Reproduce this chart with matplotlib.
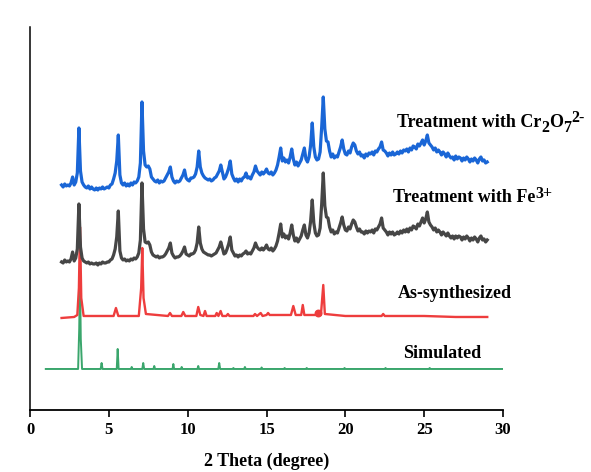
import numpy as np
import matplotlib
matplotlib.use('Agg')
import matplotlib.pyplot as plt
import matplotlib.transforms as mtransforms

plt.rcParams['font.family'] = 'Liberation Serif'
plt.rcParams['font.weight'] = 'bold'

# 2theta scan grid of the two treated samples (0.1 deg step, 2 - 29 deg)
scan_x = np.round(np.arange(2.0, 29.05, 0.1), 1)

# intensities (a.u.), relative to each pattern's own baseline
# one row per degree
cr_y = [2, 0, 3, 1, 2, 1, 4, 10, 2, 5,
        14, 59, 16, 5, 2, 0, -1, 1, -2, 0,
        -2, -3, -1, -3, -1, -2, 0, -2, -1, 0,
        -1, 2, 3, 8, 14, 26, 52, 12, 4, 2,
        4, 1, 3, 1, 4, 2, 5, 4, 6, 10,
        24, 85, 36, 22, 20, 21, 18, 10, 8, 6,
        5, 7, 4, 6, 5, 6, 9, 12, 15, 20,
        10, 6, 4, 6, 5, 6, 9, 12, 17, 9,
        7, 6, 9, 9, 10, 13, 20, 36, 20, 14,
        11, 9, 8, 7, 8, 6, 7, 9, 10, 13,
        16, 22, 15, 8, 10, 14, 19, 26, 13, 9,
        6, 8, 5, 8, 6, 9, 10, 14, 9, 10,
        8, 12, 15, 21, 16, 14, 12, 15, 13, 15,
        18, 14, 13, 15, 12, 14, 17, 22, 30, 39,
        26, 29, 25, 27, 24, 30, 38, 28, 22, 25,
        21, 24, 27, 33, 39, 28, 25, 30, 42, 64,
        40, 30, 27, 28, 35, 60, 90, 58, 46, 45,
        36, 30, 33, 29, 31, 30, 35, 40, 47, 38,
        33, 32, 36, 34, 40, 44, 42, 36, 33, 35,
        31, 32, 29, 33, 31, 34, 33, 35, 32, 36,
        35, 38, 40, 45, 37, 36, 34, 31, 34, 32,
        35, 32, 33, 35, 33, 36, 34, 37, 36, 38,
        35, 39, 37, 41, 40, 38, 43, 41, 44, 47,
        42, 46, 52, 44, 42, 40, 37, 39, 35, 37,
        35, 32, 35, 33, 30, 34, 31, 29, 30, 27,
        31, 28, 30, 29, 26, 29, 27, 30, 28, 25,
        28, 26, 29, 27, 24, 28, 30, 26, 27, 24,
        25]

fe_y = [0, -1, 2, 0, 1, 0, 3, 10, 1, 4,
        13, 58, 15, 4, 1, 0, -1, 0, -2, -1,
        -2, -2, -1, -3, -1, -2, 0, -1, -1, 0,
        0, 2, 3, 7, 13, 25, 51, 11, 4, 2,
        3, 1, 2, 1, 3, 2, 4, 3, 5, 9,
        22, 79, 33, 20, 19, 20, 17, 10, 7, 6,
        5, 6, 4, 5, 5, 6, 8, 11, 14, 19,
        9, 6, 4, 5, 5, 6, 8, 11, 15, 8,
        7, 6, 8, 8, 9, 12, 19, 35, 19, 13,
        10, 9, 8, 7, 7, 6, 7, 8, 9, 12,
        15, 20, 14, 8, 9, 13, 18, 25, 12, 9,
        6, 7, 5, 7, 6, 8, 9, 11, 8, 9,
        8, 11, 14, 19, 15, 13, 12, 14, 12, 14,
        17, 13, 12, 14, 11, 13, 16, 21, 29, 38,
        25, 28, 24, 26, 23, 29, 37, 27, 21, 24,
        20, 23, 26, 32, 37, 27, 24, 29, 41, 62,
        39, 29, 26, 27, 34, 58, 89, 56, 45, 44,
        35, 30, 32, 28, 30, 29, 34, 39, 45, 37,
        32, 31, 35, 33, 38, 42, 40, 35, 31, 33,
        30, 30, 28, 31, 29, 31, 30, 32, 29, 33,
        32, 35, 38, 44, 34, 32, 30, 27, 30, 28,
        30, 27, 28, 30, 28, 31, 29, 32, 30, 33,
        30, 34, 32, 36, 35, 33, 38, 36, 40, 44,
        39, 43, 50, 40, 37, 35, 32, 34, 30, 32,
        30, 27, 30, 28, 26, 29, 26, 24, 26, 23,
        26, 24, 26, 25, 22, 25, 23, 26, 24, 21,
        24, 22, 25, 23, 20, 24, 26, 22, 23, 20,
        22]

as_x = [2.0, 2.8, 3.0, 3.1, 3.17, 3.25, 3.4, 5.3, 5.45, 5.6, 6.9, 7.05, 7.12, 7.2, 7.35, 8.75, 8.88,
        9.0, 9.6, 9.72, 9.85, 10.55, 10.67, 10.8, 11.0, 11.1, 11.2, 11.75, 11.84, 11.95, 12.09, 12.2,
        12.45, 12.55, 12.65, 14.17, 14.27, 14.4, 14.63, 14.75, 15.0, 15.1, 15.2, 16.55, 16.7, 16.85,
        17.2, 17.3, 17.4, 18.1, 18.26, 18.45, 18.6, 18.7, 20.0, 22.3, 22.4, 22.5, 25.0, 27.0, 29.0]
as_y = [0, 1, 3, 30, 91, 20, 2, 2, 10, 2, 2, 30, 70, 20, 4, 2, 5,
        2, 2, 6, 2, 2, 11, 3, 2, 7, 2, 2, 5, 2, 7, 2,
        2, 4, 2, 2, 4, 2, 5, 2, 3, 5, 3, 3, 12, 3,
        3, 13, 3, 3, 6, 3, 33, 4, 2, 2, 4, 2, 2, 1, 1]
blob_x = [18.26]
blob_y = [5]

sim_x = [1.0, 3.05, 3.12, 3.17, 3.22, 3.3, 4.48, 4.54, 4.6, 5.5, 5.56, 5.62, 6.4, 6.45, 6.5, 7.12,
         7.18, 7.24, 7.83, 7.88, 7.93, 9.04, 9.09, 9.14, 9.57, 9.62, 9.67, 10.62, 10.67, 10.72, 11.94,
         12.0, 12.06, 12.85, 12.9, 12.95, 13.58, 13.63, 13.68, 14.64, 14.69, 14.74, 16.1, 16.15, 16.2,
         17.5, 17.55, 17.6, 19.9, 19.95, 20.0, 22.5, 22.55, 22.6, 25.3, 25.35, 25.4, 30.0]
sim_y = [0, 0, 40, 95, 30, 0, 0, 6, 0, 0, 20, 0, 0, 2, 0, 0,
         6, 0, 0, 3, 0, 0, 5, 0, 0, 2, 0, 0, 3, 0, 0,
         6, 0, 0, 1, 0, 0, 2, 0, 0, 1.5, 0, 0, 1, 0,
         0, 1, 0, 0, 1, 0, 0, 1, 0, 0, 1, 0, 0]

# label pieces: (text, shift in points, font size)
sim_label = [('Simulated', 0, 13)]
as_label = [('As-synthesized', 0, 13)]
fe_label = [('Treatment with Fe', 0, 13), ('3+', 3, 11.5)]
cr_label = [('Treatment with Cr', 0, 13), ('2', -3.5, 11.5), ('O', 0, 13),
            ('7', -3.5, 11.5), ('2-', 3.5, 11.5)]

fig = plt.figure(figsize=(5.91, 4.72), dpi=100)
ax = fig.add_axes([0.0508, 0.1314, 0.8003, 0.8114])
renderer = fig.canvas.get_renderer()


def chem_text(x, y, pieces):
    t = ax.transData
    for s, dy, size in pieces:
        tr = mtransforms.offset_copy(t, fig=fig, y=dy, units='points')
        txt = ax.text(x, y, s, fontsize=size, fontweight='bold', transform=tr, clip_on=False)
        txt.draw(renderer)
        ex = txt.get_window_extent(renderer)
        t = mtransforms.offset_copy(t, fig=fig, x=ex.width, units='dots')


# stacked offsets
ax.plot(sim_x, [v + 41 for v in sim_y], color='#3aa66c', lw=1.4)
ax.plot(as_x, [v + 92 for v in as_y], color='#ee3d3d', lw=1.7)
ax.scatter(blob_x, [v + 92 for v in blob_y], color='#ee3d3d', s=22, zorder=3)
ax.plot(scan_x, [v + 148 for v in fe_y], color='#464646', lw=2.3)
ax.plot(scan_x, [v + 223 for v in cr_y], color='#1a66d6', lw=2.3)

ax.set_xlim(0, 30)
ax.set_ylim(0, 383)
ax.set_xticks([0, 5, 10, 15, 20, 25, 30])
ax.set_yticks([])
ax.tick_params(axis='x', direction='out', length=5, width=1.2, labelsize=12, pad=4)
ax.spines['top'].set_visible(False)
ax.spines['right'].set_visible(False)
ax.spines['left'].set_linewidth(1.1)
ax.spines['bottom'].set_linewidth(1.3)
ax.set_xlabel('2 Theta (degree)', fontsize=13, fontweight='bold', labelpad=10)

chem_text(23.65, 52, sim_label)
chem_text(23.34, 112, as_label)
chem_text(23.02, 208, fe_label)
chem_text(23.27, 283, cr_label)

fig.savefig('out.png', dpi=100)
